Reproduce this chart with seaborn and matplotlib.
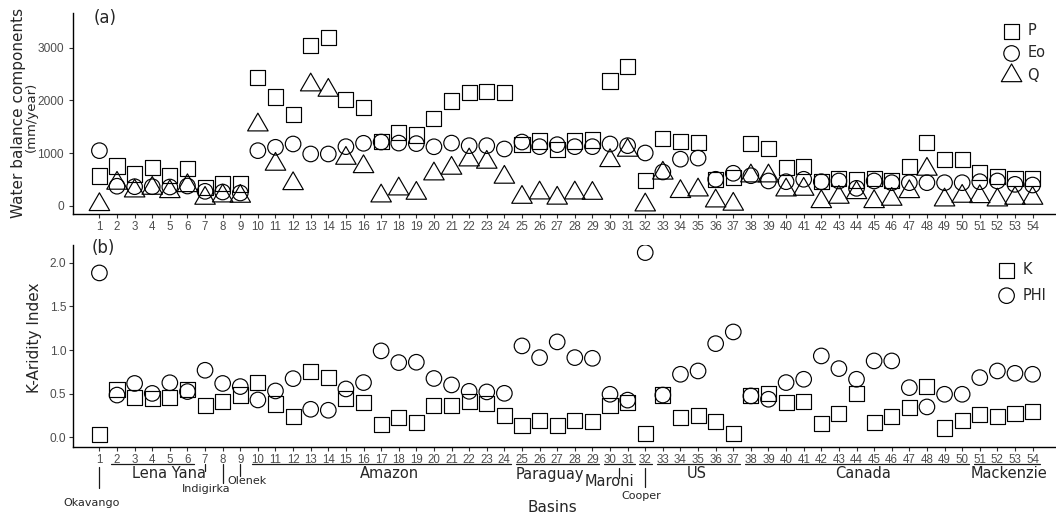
import numpy as np
import pandas as pd
import matplotlib
matplotlib.use("Agg")
import matplotlib.pyplot as plt
import seaborn as sns
from matplotlib.path import Path
from matplotlib import transforms

# ---------------- data ----------------
basins = list(range(1, 55))

P = [565, 755, 603, 730, 570, 711, 350, 426, 412, 2441,
     2066, 1740, 3040, 3198, 2020, 1867, 1224, 1395, 1344, 1661,
     1990, 2148, 2167, 2148, 1167, 1230, 1071, 1230, 1249, 2371,
     2643, 481, 1280, 1217, 1196, 498, 530, 1177, 1082, 732,
     741, 466, 521, 489, 511, 479, 751, 1196, 884, 884,
     625, 551, 511, 511]

Eo = [1046, 370, 361, 361, 355, 374, 273, 260, 241, 1046,
      1110, 1173, 983, 983, 1122, 1186, 1210, 1190, 1180, 1120,
      1190, 1141, 1141, 1078, 1210, 1122, 1160, 1122, 1122, 1173,
      1141, 1002, 641, 884, 905, 502, 616, 570, 470, 456,
      502, 456, 470, 330, 470, 437, 437, 437, 437, 437,
      456, 470, 406, 393]

Q = [20, 426, 279, 330, 266, 380, 140, 184, 178, 1534,
     787, 418, 2295, 2193, 900, 741, 184, 317, 235, 603,
     711, 869, 825, 540, 158, 241, 142, 241, 234, 856,
     1053, 13, 618, 268, 298, 89, 27, 565, 565, 298,
     311, 76, 159, 247, 76, 121, 266, 692, 108, 178,
     171, 108, 140, 140]

K = [0.036, 0.544, 0.456, 0.444, 0.456, 0.544, 0.370, 0.406, 0.486, 0.631,
     0.383, 0.242, 0.757, 0.689, 0.444, 0.395, 0.147, 0.225, 0.173, 0.364,
     0.361, 0.408, 0.389, 0.255, 0.135, 0.192, 0.135, 0.196, 0.184, 0.364,
     0.402, 0.044, 0.486, 0.223, 0.255, 0.184, 0.046, 0.475, 0.502, 0.399,
     0.414, 0.154, 0.278, 0.498, 0.166, 0.242, 0.345, 0.580, 0.108, 0.192,
     0.261, 0.236, 0.275, 0.292]

PHI = [1.884, 0.485, 0.618, 0.504, 0.626, 0.525, 0.769, 0.618, 0.582, 0.429,
       0.532, 0.673, 0.322, 0.311, 0.555, 0.628, 0.991, 0.857, 0.861, 0.675,
       0.601, 0.528, 0.521, 0.505, 1.048, 0.914, 1.094, 0.914, 0.906, 0.494,
       0.427, 2.117, 0.485, 0.723, 0.761, 1.074, 1.208, 0.475, 0.437, 0.628,
       0.666, 0.933, 0.788, 0.666, 0.876, 0.876, 0.570, 0.349, 0.494, 0.494,
       0.685, 0.761, 0.734, 0.723]

group_names = ["Okavango", "Lena Yana", "Indigirka", "Olenek", "Amazon", "Paraguay",
               "Maroni", "Cooper", "US", "Canada", "Mackenzie"]
group_first = [1, 2, 7, 9, 10, 25, 30, 32, 33, 38, 51]
group_last = [1, 6, 8, 9, 24, 29, 31, 32, 37, 50, 54]

top_df = pd.DataFrame({"basin": basins, "P": P, "Eo": Eo, "Q": Q})
bot_df = pd.DataFrame({"basin": basins, "K": K, "PHI": PHI})

# ---------------- style ----------------
sns.set_style("ticks")
plt.rcParams["font.family"] = ["DejaVu Sans"]

W, H = 1056, 516
fig = plt.figure(figsize=(W / 100, H / 100), dpi=100)


def px_axes(l, t, r, b):
    return fig.add_axes([l / W, 1 - b / H, (r - l) / W, (b - t) / H])


ax1 = px_axes(73, 13, 1059, 214)
ax2 = px_axes(73, 245, 1059, 447)

tri = Path([(0, 1), (-0.866, -0.5), (0.866, -0.5), (0, 1)],
           [Path.MOVETO, Path.LINETO, Path.LINETO, Path.CLOSEPOLY])

common = dict(facecolor="none", edgecolor="black", linewidth=0.85, zorder=3)

sns.scatterplot(data=top_df, x="basin", y="P", marker="s", s=118, ax=ax1, label="P", **common)
sns.scatterplot(data=top_df, x="basin", y="Eo", marker="o", s=125, ax=ax1, label="Eo", **common)
sns.scatterplot(data=top_df, x="basin", y="Q", marker=tri, s=290, ax=ax1, label="Q", **common)

sns.scatterplot(data=bot_df, x="basin", y="K", marker="s", s=118, ax=ax2, label="K", **common)
sns.scatterplot(data=bot_df, x="basin", y="PHI", marker="o", s=125, ax=ax2, label="PHI", **common)

tick_font = {"family": "Liberation Sans", "size": 8.3}
ytick_font = {"family": "Liberation Sans", "size": 8.6}
for ax in (ax1, ax2):
    ax.set_xlim(-0.5, 55.5)
    ax.set_xticks(basins)
    ax.set_xticklabels([str(b) for b in basins], fontdict=tick_font, color="#4D4D4D")
    ax.set_xlabel("")
    ax.set_ylabel("")
    for s in ("top", "right"):
        ax.spines[s].set_visible(False)
    for s in ("left", "bottom"):
        ax.spines[s].set_linewidth(1.0)
        ax.spines[s].set_color("black")
    ax.tick_params(axis="both", length=2.6, width=0.8, color="#333333", pad=2.4)

ax1.set_ylim(-158, 3663)
ax1.set_yticks([0, 1000, 2000, 3000])
ax1.set_yticklabels(["0", "1000", "2000", "3000"], fontdict=ytick_font, color="#4D4D4D")
ax1.tick_params(axis="y", pad=4.0)

ax2.set_ylim(-0.11, 2.204)
ax2.set_yticks([0, 0.5, 1.0, 1.5, 2.0])
ax2.set_yticklabels(["0.0", "0.5", "1.0", "1.5", "2.0"], fontdict=ytick_font, color="#4D4D4D")

# legends
h1, l1 = ax1.get_legend_handles_labels()
ax1.legend(h1, l1, loc="upper left", bbox_to_anchor=(1001 / W, 1 - 23 / H),
           bbox_transform=fig.transFigure, frameon=False, borderpad=0, borderaxespad=0,
           handlelength=1.45, handletextpad=0.35, labelspacing=0.5, fontsize=10.5,
           scatterpoints=1)
h2, l2 = ax2.get_legend_handles_labels()
ax2.legend(h2, l2, loc="upper left", bbox_to_anchor=(996 / W, 1 - 262 / H),
           bbox_transform=fig.transFigure, frameon=False, borderpad=0, borderaxespad=0,
           handlelength=1.45, handletextpad=0.35, labelspacing=0.72, fontsize=10.5,
           scatterpoints=1)

# panel tags and axis titles
fig.text(105 / W, 1 - 18 / H, "(a)", fontsize=12, ha="center", va="center")
fig.text(103 / W, 1 - 248 / H, "(b)", fontsize=12, ha="center", va="center")
fig.text(19 / W, 1 - 113 / H, "Water balance components", rotation=90, fontsize=11,
         ha="center", va="center")
fig.text(31 / W, 1 - 117 / H, "(mm/year)", rotation=90, fontsize=9.5, ha="center", va="center")
fig.text(35 / W, 1 - 338 / H, "K-Aridity Index", rotation=90, fontsize=11, ha="center", va="center")
fig.text(552 / W, 1 - 508 / H, "Basins", fontsize=11, ha="center", va="center")

# basin group annotations under panel (b)
trans = transforms.blended_transform_factory(ax2.transData, fig.transFigure)


def fy(y):
    return 1 - y / H


line_kw = dict(color="#1a1a1a", linewidth=0.9, transform=trans, clip_on=False)
underline_y = 464
# layout per group: (underline?, label x offset from group centre, label y, fontsize, vertical ticks)
layout = {
    "Okavango": (False, -0.46, 503, 8, [(1, 467, 488)]),
    "Lena Yana": (True, 0.94, 474, 10.5, []),
    "Indigirka": (False, -0.45, 489, 8, [(7, 464, 471), (8, 464, 483)]),
    "Olenek": (False, 0.37, 481, 8, [(9, 464, 476)]),
    "Amazon": (True, 0.5, 474, 10.5, []),
    "Paraguay": (True, -0.44, 474, 10.5, []),
    "Maroni": (True, -0.54, 482, 10.5, [(30.5, 468, 478)]),
    "Cooper": (True, -0.2, 496, 8, [(32, 468, 487)]),
    "US": (True, -0.1, 474, 10.5, []),
    "Canada": (True, 0.4, 474, 10.5, []),
    "Mackenzie": (True, 0.15, 474, 10.5, []),
}
for name, a, b in zip(group_names, group_first, group_last):
    under, dx, ly, fs, ticks = layout[name]
    if under:
        ax2.plot([a - 0.33, b + 0.4], [fy(underline_y), fy(underline_y)], **line_kw)
    for tx, y0, y1 in ticks:
        ax2.plot([tx, tx], [fy(y0), fy(y1)], **line_kw)
    ax2.text((a + b) / 2 + dx, fy(ly), name, transform=trans, fontsize=fs,
             ha="center", va="center", clip_on=False)

fig.savefig("out.png", dpi=100)
